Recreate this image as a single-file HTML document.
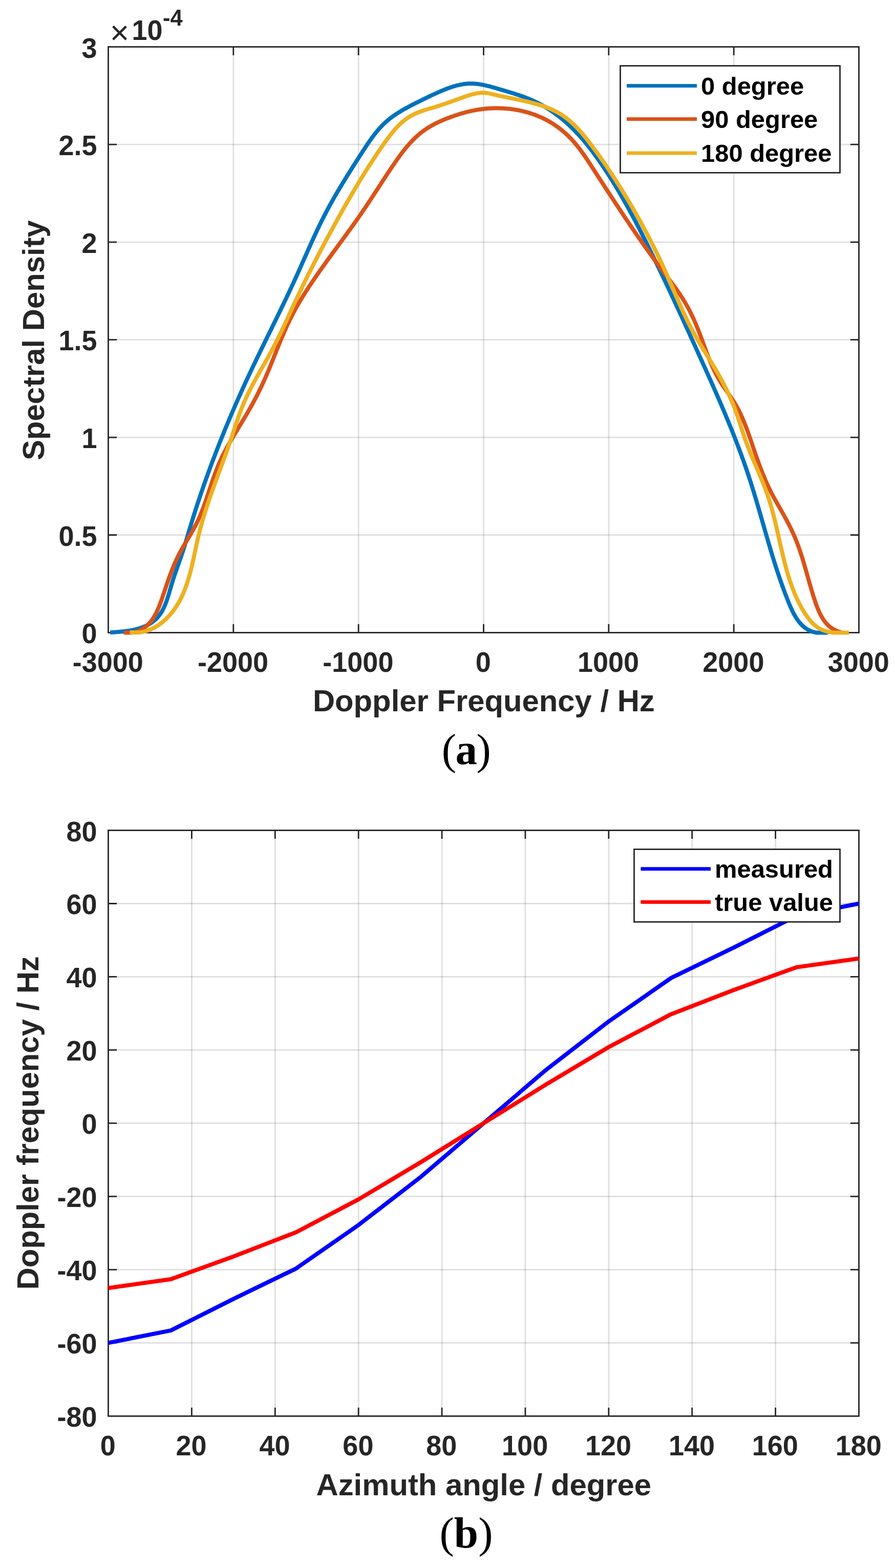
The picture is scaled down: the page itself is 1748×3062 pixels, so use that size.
<!DOCTYPE html><html><head><meta charset="utf-8"><title>Doppler spectra</title><style>html,body{margin:0;padding:0;background:#fff}svg{display:block}text{font-family:'Liberation Sans', sans-serif}</style></head><body>
<svg width="1748" height="3062" viewBox="0 0 1748 3062">
<rect width="1748" height="3062" fill="#fff"/>
<path d="M455.83 91.5V1235.4M700.17 91.5V1235.4M944.5 91.5V1235.4M1188.83 91.5V1235.4M1433.17 91.5V1235.4" stroke="#262626" stroke-opacity="0.15" stroke-width="2.8" fill="none"/>
<path d="M211.5 1044.75H1677.5M211.5 854.1H1677.5M211.5 663.45H1677.5M211.5 472.8H1677.5M211.5 282.15H1677.5" stroke="#262626" stroke-opacity="0.15" stroke-width="2.8" fill="none"/>
<path d="M455.83 1235.4V1218.8M455.83 91.5V108.1M700.17 1235.4V1218.8M700.17 91.5V108.1M944.5 1235.4V1218.8M944.5 91.5V108.1M1188.83 1235.4V1218.8M1188.83 91.5V108.1M1433.17 1235.4V1218.8M1433.17 91.5V108.1M211.5 1044.75H228.1M1677.5 1044.75H1660.9M211.5 854.1H228.1M1677.5 854.1H1660.9M211.5 663.45H228.1M1677.5 663.45H1660.9M211.5 472.8H228.1M1677.5 472.8H1660.9M211.5 282.15H228.1M1677.5 282.15H1660.9" stroke="#262626" stroke-width="2.8" fill="none"/>
<rect x="211.5" y="91.5" width="1466" height="1143.9" fill="none" stroke="#262626" stroke-width="2.8" stroke-linejoin="miter"/>
<polyline points="215.3,1235.1 217.3,1235.0 219.3,1234.8 221.2,1234.7 223.2,1234.6 225.2,1234.4 227.2,1234.3 229.2,1234.1 231.2,1233.9 233.2,1233.8 235.2,1233.6 237.2,1233.4 239.2,1233.2 241.2,1233.0 243.2,1232.7 245.1,1232.5 247.1,1232.2 249.1,1232.0 251.1,1231.7 253.1,1231.4 255.0,1231.0 257.0,1230.7 259.0,1230.3 260.9,1229.9 262.9,1229.5 264.8,1229.0 266.8,1228.5 268.7,1228.0 270.6,1227.5 272.5,1226.9 274.4,1226.3 276.3,1225.6 278.2,1224.9 280.1,1224.2 281.9,1223.4 283.8,1222.6 285.6,1221.8 287.4,1220.9 289.1,1220.0 290.9,1219.0 292.6,1218.0 294.3,1217.0 296.0,1215.9 297.6,1214.7 299.2,1213.5 300.8,1212.3 302.3,1211.0 303.8,1209.7 305.3,1208.3 306.7,1206.9 308.0,1205.4 309.3,1203.9 310.6,1202.3 311.8,1200.7 313.0,1199.1 314.1,1197.4 315.2,1195.8 316.2,1194.0 317.2,1192.3 318.1,1190.5 319.0,1188.8 319.9,1187.0 320.7,1185.1 321.5,1183.3 322.3,1181.5 323.1,1179.6 323.8,1177.7 324.5,1175.9 325.2,1174.0 325.8,1172.1 326.5,1170.2 327.1,1168.3 327.7,1166.4 328.3,1164.5 328.9,1162.6 329.5,1160.7 330.1,1158.8 330.7,1156.9 331.2,1154.9 331.8,1153.0 332.3,1151.1 332.9,1149.2 333.4,1147.3 334.0,1145.3 334.6,1143.4 335.1,1141.5 335.7,1139.6 336.3,1137.7 336.9,1135.8 337.5,1133.8 338.1,1131.9 338.7,1130.0 339.3,1128.1 340.0,1126.2 340.6,1124.3 341.2,1122.4 341.9,1120.6 342.5,1118.7 343.2,1116.8 343.8,1114.9 344.5,1113.0 345.2,1111.1 345.8,1109.2 346.5,1107.3 347.1,1105.4 347.8,1103.6 348.5,1101.7 349.2,1099.8 349.8,1097.9 350.5,1096.0 351.1,1094.1 351.8,1092.2 352.5,1090.4 353.1,1088.5 353.8,1086.6 354.4,1084.7 355.1,1082.8 355.7,1080.9 356.4,1079.0 357.0,1077.1 357.6,1075.2 358.2,1073.3 358.8,1071.4 359.4,1069.5 360.0,1067.6 360.6,1065.7 361.2,1063.8 361.8,1061.8 362.4,1059.9 362.9,1058.0 363.5,1056.1 364.1,1054.2 364.6,1052.3 365.2,1050.3 365.8,1048.4 366.3,1046.5 366.9,1044.6 367.5,1042.7 368.0,1040.7 368.6,1038.8 369.2,1036.9 369.7,1035.0 370.3,1033.1 370.9,1031.2 371.5,1029.3 372.1,1027.3 372.6,1025.4 373.2,1023.5 373.8,1021.6 374.4,1019.7 375.0,1017.8 375.6,1015.9 376.2,1014.0 376.8,1012.0 377.4,1010.1 378.0,1008.2 378.6,1006.3 379.2,1004.4 379.8,1002.5 380.4,1000.6 381.0,998.7 381.6,996.8 382.2,994.9 382.8,993.0 383.5,991.1 384.1,989.2 384.7,987.3 385.3,985.4 385.9,983.5 386.6,981.6 387.2,979.7 387.8,977.8 388.5,975.9 389.1,974.0 389.7,972.1 390.4,970.2 391.0,968.3 391.7,966.4 392.3,964.5 392.9,962.6 393.6,960.7 394.2,958.8 394.9,957.0 395.5,955.1 396.2,953.2 396.8,951.3 397.5,949.4 398.2,947.5 398.8,945.6 399.5,943.7 400.2,941.8 400.8,940.0 401.5,938.1 402.2,936.2 402.8,934.3 403.5,932.4 404.2,930.5 404.9,928.7 405.5,926.8 406.2,924.9 406.9,923.0 407.6,921.1 408.3,919.3 409.0,917.4 409.6,915.5 410.3,913.6 411.0,911.7 411.7,909.9 412.4,908.0 413.1,906.1 413.8,904.3 414.5,902.4 415.2,900.5 415.9,898.6 416.6,896.8 417.3,894.9 418.1,893.0 418.8,891.2 419.5,889.3 420.2,887.4 420.9,885.6 421.6,883.7 422.4,881.8 423.1,880.0 423.8,878.1 424.5,876.2 425.2,874.4 426.0,872.5 426.7,870.6 427.4,868.8 428.2,866.9 428.9,865.1 429.6,863.2 430.4,861.3 431.1,859.5 431.9,857.6 432.6,855.8 433.4,853.9 434.1,852.1 434.9,850.2 435.6,848.3 436.4,846.5 437.1,844.6 437.9,842.8 438.6,840.9 439.4,839.1 440.1,837.2 440.9,835.4 441.7,833.5 442.4,831.7 443.2,829.8 444.0,828.0 444.7,826.2 445.5,824.3 446.3,822.5 447.0,820.6 447.8,818.8 448.6,816.9 449.4,815.1 450.2,813.2 450.9,811.4 451.7,809.6 452.5,807.7 453.3,805.9 454.1,804.1 454.9,802.2 455.7,800.4 456.5,798.5 457.3,796.7 458.1,794.9 458.9,793.0 459.7,791.2 460.5,789.4 461.3,787.5 462.1,785.7 462.9,783.9 463.7,782.1 464.5,780.2 465.3,778.4 466.1,776.6 466.9,774.7 467.7,772.9 468.6,771.1 469.4,769.3 470.2,767.4 471.0,765.6 471.8,763.8 472.7,762.0 473.5,760.1 474.3,758.3 475.1,756.5 476.0,754.7 476.8,752.9 477.6,751.0 478.5,749.2 479.3,747.4 480.1,745.6 481.0,743.8 481.8,742.0 482.7,740.2 483.5,738.3 484.4,736.5 485.2,734.7 486.1,732.9 486.9,731.1 487.8,729.3 488.6,727.5 489.5,725.7 490.3,723.9 491.2,722.1 492.0,720.2 492.9,718.4 493.7,716.6 494.6,714.8 495.5,713.0 496.3,711.2 497.2,709.4 498.1,707.6 498.9,705.8 499.8,704.0 500.7,702.2 501.5,700.4 502.4,698.6 503.3,696.8 504.1,695.0 505.0,693.2 505.9,691.4 506.8,689.6 507.6,687.8 508.5,686.0 509.4,684.2 510.2,682.4 511.1,680.6 512.0,678.8 512.9,677.0 513.8,675.2 514.6,673.4 515.5,671.6 516.4,669.8 517.3,668.0 518.1,666.2 519.0,664.4 519.9,662.6 520.8,660.8 521.7,659.0 522.5,657.2 523.4,655.5 524.3,653.7 525.2,651.9 526.1,650.1 526.9,648.3 527.8,646.5 528.7,644.7 529.6,642.9 530.5,641.1 531.4,639.3 532.2,637.5 533.1,635.7 534.0,633.9 534.9,632.1 535.7,630.3 536.6,628.5 537.5,626.7 538.4,624.9 539.3,623.1 540.1,621.3 541.0,619.5 541.9,617.7 542.8,615.9 543.6,614.1 544.5,612.3 545.4,610.5 546.3,608.7 547.1,606.9 548.0,605.1 548.9,603.3 549.8,601.5 550.6,599.7 551.5,597.9 552.4,596.1 553.2,594.3 554.1,592.5 555.0,590.7 555.8,588.9 556.7,587.1 557.5,585.3 558.4,583.5 559.3,581.7 560.1,579.9 561.0,578.1 561.8,576.3 562.7,574.5 563.6,572.7 564.4,570.9 565.3,569.0 566.1,567.2 567.0,565.4 567.8,563.6 568.7,561.8 569.5,560.0 570.3,558.2 571.2,556.4 572.0,554.5 572.9,552.7 573.7,550.9 574.5,549.1 575.4,547.3 576.2,545.5 577.0,543.6 577.9,541.8 578.7,540.0 579.5,538.2 580.3,536.4 581.2,534.5 582.0,532.7 582.8,530.9 583.6,529.1 584.4,527.2 585.3,525.4 586.1,523.6 586.9,521.8 587.7,519.9 588.5,518.1 589.3,516.3 590.1,514.4 590.9,512.6 591.8,510.8 592.6,509.0 593.4,507.1 594.2,505.3 595.0,503.5 595.8,501.6 596.6,499.8 597.4,498.0 598.2,496.2 599.1,494.3 599.9,492.5 600.7,490.7 601.5,488.9 602.3,487.0 603.1,485.2 603.9,483.4 604.8,481.6 605.6,479.7 606.4,477.9 607.2,476.1 608.0,474.3 608.9,472.4 609.7,470.6 610.5,468.8 611.4,467.0 612.2,465.2 613.0,463.3 613.9,461.5 614.7,459.7 615.5,457.9 616.4,456.1 617.2,454.3 618.1,452.5 618.9,450.6 619.8,448.8 620.6,447.0 621.5,445.2 622.4,443.4 623.2,441.6 624.1,439.8 625.0,438.0 625.9,436.2 626.7,434.4 627.6,432.6 628.5,430.8 629.4,429.1 630.3,427.3 631.2,425.5 632.1,423.7 633.0,421.9 633.9,420.1 634.9,418.4 635.8,416.6 636.7,414.8 637.6,413.1 638.6,411.3 639.5,409.5 640.5,407.8 641.4,406.0 642.4,404.2 643.3,402.5 644.3,400.7 645.2,399.0 646.2,397.2 647.2,395.5 648.2,393.7 649.1,392.0 650.1,390.2 651.1,388.5 652.1,386.8 653.1,385.0 654.1,383.3 655.1,381.6 656.1,379.8 657.1,378.1 658.1,376.4 659.1,374.7 660.1,372.9 661.2,371.2 662.2,369.5 663.2,367.8 664.2,366.1 665.3,364.3 666.3,362.6 667.3,360.9 668.4,359.2 669.4,357.5 670.4,355.8 671.5,354.1 672.5,352.4 673.6,350.7 674.6,349.0 675.7,347.3 676.7,345.6 677.8,343.9 678.8,342.2 679.9,340.5 680.9,338.8 682.0,337.1 683.1,335.4 684.1,333.7 685.2,332.0 686.3,330.3 687.3,328.6 688.4,326.9 689.5,325.2 690.6,323.6 691.6,321.9 692.7,320.2 693.8,318.5 694.9,316.8 695.9,315.1 697.0,313.4 698.1,311.8 699.2,310.1 700.3,308.4 701.3,306.7 702.4,305.0 703.5,303.3 704.6,301.7 705.7,300.0 706.8,298.3 707.8,296.6 708.9,294.9 710.0,293.3 711.1,291.6 712.2,289.9 713.3,288.2 714.4,286.6 715.5,284.9 716.6,283.2 717.7,281.6 718.8,279.9 720.0,278.3 721.1,276.6 722.2,275.0 723.4,273.3 724.6,271.7 725.7,270.1 726.9,268.5 728.1,266.9 729.3,265.3 730.5,263.7 731.7,262.1 733.0,260.5 734.2,259.0 735.5,257.4 736.7,255.9 738.0,254.3 739.3,252.8 740.7,251.3 742.0,249.8 743.3,248.3 744.7,246.9 746.1,245.4 747.5,244.0 748.9,242.6 750.4,241.2 751.8,239.8 753.3,238.5 754.8,237.2 756.3,235.9 757.8,234.6 759.4,233.3 760.9,232.0 762.5,230.8 764.1,229.6 765.7,228.4 767.3,227.2 768.9,226.1 770.6,224.9 772.2,223.8 773.9,222.7 775.6,221.6 777.3,220.5 778.9,219.4 780.6,218.4 782.4,217.4 784.1,216.3 785.8,215.3 787.5,214.3 789.3,213.3 791.0,212.3 792.7,211.4 794.5,210.4 796.3,209.4 798.0,208.5 799.8,207.6 801.6,206.6 803.3,205.7 805.1,204.8 806.9,203.9 808.7,203.0 810.4,202.1 812.2,201.2 814.0,200.3 815.8,199.4 817.6,198.5 819.4,197.6 821.2,196.7 823.0,195.8 824.8,194.9 826.6,194.0 828.4,193.2 830.2,192.3 832.0,191.4 833.8,190.5 835.6,189.7 837.4,188.8 839.2,188.0 841.0,187.1 842.8,186.2 844.6,185.4 846.4,184.6 848.2,183.7 850.1,182.9 851.9,182.1 853.7,181.3 855.5,180.4 857.4,179.6 859.2,178.8 861.0,178.0 862.9,177.3 864.7,176.5 866.6,175.7 868.4,175.0 870.3,174.2 872.1,173.5 874.0,172.8 875.9,172.1 877.8,171.4 879.7,170.8 881.5,170.1 883.5,169.5 885.4,168.9 887.3,168.3 889.2,167.8 891.1,167.2 893.1,166.7 895.0,166.3 897.0,165.8 898.9,165.4 900.9,165.0 902.8,164.7 904.8,164.3 906.8,164.1 908.8,163.8 910.8,163.6 912.8,163.4 914.8,163.3 916.8,163.2 918.8,163.2 920.8,163.2 922.8,163.2 924.8,163.3 926.7,163.4 928.7,163.6 930.7,163.8 932.7,164.0 934.7,164.3 936.7,164.6 938.7,164.9 940.6,165.2 942.6,165.6 944.6,166.0 946.5,166.4 948.5,166.8 950.4,167.3 952.4,167.8 954.3,168.2 956.2,168.7 958.2,169.2 960.1,169.8 962.0,170.3 964.0,170.8 965.9,171.4 967.8,171.9 969.7,172.5 971.6,173.1 973.6,173.6 975.5,174.2 977.4,174.8 979.3,175.3 981.2,175.9 983.1,176.5 985.1,177.0 987.0,177.6 988.9,178.2 990.8,178.8 992.7,179.3 994.6,179.9 996.6,180.5 998.5,181.1 1000.4,181.7 1002.3,182.2 1004.2,182.8 1006.1,183.5 1008.0,184.1 1009.9,184.7 1011.8,185.3 1013.7,185.9 1015.6,186.6 1017.5,187.2 1019.4,187.9 1021.3,188.6 1023.1,189.3 1025.0,189.9 1026.9,190.7 1028.8,191.4 1030.6,192.1 1032.5,192.9 1034.3,193.6 1036.2,194.4 1038.0,195.2 1039.8,196.0 1041.6,196.8 1043.5,197.7 1045.3,198.5 1047.1,199.4 1048.9,200.3 1050.6,201.2 1052.4,202.1 1054.2,203.0 1056.0,204.0 1057.7,204.9 1059.5,205.9 1061.2,206.9 1062.9,207.9 1064.6,208.9 1066.4,210.0 1068.1,211.0 1069.8,212.1 1071.4,213.1 1073.1,214.2 1074.8,215.3 1076.5,216.4 1078.1,217.6 1079.8,218.7 1081.4,219.8 1083.0,221.0 1084.6,222.2 1086.3,223.4 1087.9,224.6 1089.5,225.8 1091.0,227.0 1092.6,228.2 1094.2,229.5 1095.7,230.7 1097.3,232.0 1098.8,233.3 1100.4,234.6 1101.9,235.8 1103.4,237.2 1104.9,238.5 1106.4,239.8 1107.9,241.1 1109.4,242.5 1110.8,243.8 1112.3,245.2 1113.7,246.6 1115.2,248.0 1116.6,249.4 1118.0,250.8 1119.5,252.2 1120.9,253.6 1122.3,255.0 1123.7,256.5 1125.0,257.9 1126.4,259.4 1127.8,260.8 1129.2,262.3 1130.5,263.7 1131.9,265.2 1133.2,266.7 1134.5,268.2 1135.8,269.7 1137.2,271.2 1138.5,272.7 1139.8,274.2 1141.1,275.8 1142.3,277.3 1143.6,278.8 1144.9,280.4 1146.2,281.9 1147.4,283.5 1148.7,285.0 1149.9,286.6 1151.2,288.2 1152.4,289.8 1153.6,291.3 1154.8,292.9 1156.0,294.5 1157.3,296.1 1158.5,297.7 1159.7,299.3 1160.8,300.9 1162.0,302.5 1163.2,304.1 1164.4,305.8 1165.6,307.4 1166.7,309.0 1167.9,310.6 1169.0,312.3 1170.2,313.9 1171.3,315.6 1172.5,317.2 1173.6,318.8 1174.7,320.5 1175.9,322.1 1177.0,323.8 1178.1,325.5 1179.2,327.1 1180.3,328.8 1181.4,330.4 1182.5,332.1 1183.6,333.8 1184.7,335.5 1185.8,337.1 1186.9,338.8 1188.0,340.5 1189.1,342.2 1190.1,343.9 1191.2,345.6 1192.3,347.2 1193.4,348.9 1194.4,350.6 1195.5,352.3 1196.5,354.0 1197.6,355.7 1198.6,357.4 1199.7,359.1 1200.7,360.8 1201.8,362.5 1202.8,364.3 1203.8,366.0 1204.9,367.7 1205.9,369.4 1206.9,371.1 1207.9,372.8 1209.0,374.6 1210.0,376.3 1211.0,378.0 1212.0,379.7 1213.0,381.5 1214.0,383.2 1215.0,384.9 1216.0,386.7 1217.0,388.4 1218.0,390.1 1219.0,391.9 1220.0,393.6 1220.9,395.4 1221.9,397.1 1222.9,398.8 1223.9,400.6 1224.8,402.3 1225.8,404.1 1226.8,405.8 1227.7,407.6 1228.7,409.3 1229.7,411.1 1230.6,412.8 1231.6,414.6 1232.5,416.4 1233.5,418.1 1234.4,419.9 1235.4,421.6 1236.3,423.4 1237.3,425.2 1238.2,426.9 1239.1,428.7 1240.1,430.5 1241.0,432.2 1241.9,434.0 1242.9,435.8 1243.8,437.6 1244.7,439.3 1245.7,441.1 1246.6,442.9 1247.5,444.7 1248.4,446.4 1249.3,448.2 1250.2,450.0 1251.2,451.8 1252.1,453.5 1253.0,455.3 1253.9,457.1 1254.8,458.9 1255.7,460.7 1256.6,462.5 1257.5,464.2 1258.4,466.0 1259.3,467.8 1260.2,469.6 1261.1,471.4 1262.0,473.2 1262.9,475.0 1263.8,476.8 1264.7,478.5 1265.6,480.3 1266.4,482.1 1267.3,483.9 1268.2,485.7 1269.1,487.5 1270.0,489.3 1270.9,491.1 1271.8,492.9 1272.6,494.7 1273.5,496.5 1274.4,498.3 1275.3,500.1 1276.2,501.9 1277.0,503.7 1277.9,505.5 1278.8,507.3 1279.7,509.1 1280.5,510.9 1281.4,512.7 1282.3,514.5 1283.2,516.3 1284.0,518.1 1284.9,519.9 1285.8,521.7 1286.6,523.5 1287.5,525.3 1288.4,527.1 1289.2,528.9 1290.1,530.7 1291.0,532.5 1291.8,534.3 1292.7,536.1 1293.6,537.9 1294.4,539.7 1295.3,541.5 1296.1,543.3 1297.0,545.1 1297.9,546.9 1298.7,548.7 1299.6,550.5 1300.4,552.3 1301.3,554.1 1302.1,556.0 1303.0,557.8 1303.8,559.6 1304.7,561.4 1305.6,563.2 1306.4,565.0 1307.3,566.8 1308.1,568.6 1309.0,570.4 1309.8,572.2 1310.7,574.1 1311.5,575.9 1312.3,577.7 1313.2,579.5 1314.0,581.3 1314.9,583.1 1315.7,584.9 1316.6,586.7 1317.4,588.6 1318.3,590.4 1319.1,592.2 1319.9,594.0 1320.8,595.8 1321.6,597.6 1322.5,599.4 1323.3,601.2 1324.2,603.1 1325.0,604.9 1325.8,606.7 1326.7,608.5 1327.5,610.3 1328.3,612.1 1329.2,614.0 1330.0,615.8 1330.9,617.6 1331.7,619.4 1332.5,621.2 1333.4,623.0 1334.2,624.9 1335.0,626.7 1335.9,628.5 1336.7,630.3 1337.5,632.1 1338.4,634.0 1339.2,635.8 1340.0,637.6 1340.9,639.4 1341.7,641.2 1342.5,643.0 1343.4,644.9 1344.2,646.7 1345.0,648.5 1345.9,650.3 1346.7,652.1 1347.5,654.0 1348.3,655.8 1349.2,657.6 1350.0,659.4 1350.8,661.2 1351.7,663.1 1352.5,664.9 1353.3,666.7 1354.1,668.5 1355.0,670.3 1355.8,672.2 1356.6,674.0 1357.5,675.8 1358.3,677.6 1359.1,679.4 1359.9,681.3 1360.8,683.1 1361.6,684.9 1362.4,686.7 1363.2,688.6 1364.1,690.4 1364.9,692.2 1365.7,694.0 1366.5,695.8 1367.4,697.7 1368.2,699.5 1369.0,701.3 1369.8,703.1 1370.7,704.9 1371.5,706.8 1372.3,708.6 1373.1,710.4 1374.0,712.2 1374.8,714.1 1375.6,715.9 1376.4,717.7 1377.3,719.5 1378.1,721.3 1378.9,723.2 1379.7,725.0 1380.5,726.8 1381.4,728.6 1382.2,730.5 1383.0,732.3 1383.8,734.1 1384.6,735.9 1385.5,737.8 1386.3,739.6 1387.1,741.4 1387.9,743.2 1388.7,745.1 1389.5,746.9 1390.3,748.7 1391.2,750.6 1392.0,752.4 1392.8,754.2 1393.6,756.0 1394.4,757.9 1395.2,759.7 1396.0,761.5 1396.8,763.4 1397.6,765.2 1398.4,767.0 1399.2,768.9 1400.0,770.7 1400.8,772.5 1401.6,774.4 1402.4,776.2 1403.2,778.0 1404.0,779.9 1404.8,781.7 1405.6,783.5 1406.4,785.4 1407.2,787.2 1408.0,789.0 1408.8,790.9 1409.6,792.7 1410.3,794.6 1411.1,796.4 1411.9,798.2 1412.7,800.1 1413.5,801.9 1414.3,803.8 1415.0,805.6 1415.8,807.4 1416.6,809.3 1417.4,811.1 1418.1,813.0 1418.9,814.8 1419.7,816.7 1420.4,818.5 1421.2,820.4 1422.0,822.2 1422.7,824.1 1423.5,825.9 1424.2,827.8 1425.0,829.6 1425.8,831.5 1426.5,833.3 1427.3,835.2 1428.0,837.0 1428.8,838.9 1429.5,840.7 1430.2,842.6 1431.0,844.5 1431.7,846.3 1432.5,848.2 1433.2,850.0 1433.9,851.9 1434.7,853.8 1435.4,855.6 1436.1,857.5 1436.9,859.3 1437.6,861.2 1438.3,863.1 1439.0,864.9 1439.7,866.8 1440.4,868.7 1441.2,870.5 1441.9,872.4 1442.6,874.3 1443.3,876.2 1444.0,878.0 1444.7,879.9 1445.4,881.8 1446.1,883.6 1446.8,885.5 1447.5,887.4 1448.2,889.3 1448.8,891.2 1449.5,893.0 1450.2,894.9 1450.9,896.8 1451.6,898.7 1452.2,900.6 1452.9,902.4 1453.6,904.3 1454.2,906.2 1454.9,908.1 1455.6,910.0 1456.2,911.9 1456.9,913.8 1457.5,915.7 1458.2,917.6 1458.8,919.5 1459.4,921.3 1460.1,923.2 1460.7,925.1 1461.4,927.0 1462.0,928.9 1462.6,930.8 1463.2,932.7 1463.9,934.6 1464.5,936.5 1465.1,938.4 1465.7,940.3 1466.3,942.2 1466.9,944.2 1467.5,946.1 1468.1,948.0 1468.7,949.9 1469.3,951.8 1469.9,953.7 1470.5,955.6 1471.1,957.5 1471.7,959.4 1472.3,961.3 1472.8,963.3 1473.4,965.2 1474.0,967.1 1474.6,969.0 1475.2,970.9 1475.7,972.8 1476.3,974.7 1476.9,976.7 1477.4,978.6 1478.0,980.5 1478.6,982.4 1479.1,984.3 1479.7,986.3 1480.3,988.2 1480.8,990.1 1481.4,992.0 1481.9,993.9 1482.5,995.9 1483.1,997.8 1483.6,999.7 1484.2,1001.6 1484.7,1003.5 1485.3,1005.5 1485.8,1007.4 1486.4,1009.3 1486.9,1011.2 1487.5,1013.1 1488.0,1015.1 1488.6,1017.0 1489.1,1018.9 1489.7,1020.8 1490.2,1022.8 1490.8,1024.7 1491.4,1026.6 1491.9,1028.5 1492.5,1030.5 1493.0,1032.4 1493.6,1034.3 1494.1,1036.2 1494.7,1038.1 1495.2,1040.1 1495.8,1042.0 1496.3,1043.9 1496.9,1045.8 1497.4,1047.7 1498.0,1049.7 1498.6,1051.6 1499.1,1053.5 1499.7,1055.4 1500.2,1057.3 1500.8,1059.3 1501.4,1061.2 1501.9,1063.1 1502.5,1065.0 1503.1,1066.9 1503.6,1068.9 1504.2,1070.8 1504.8,1072.7 1505.3,1074.6 1505.9,1076.5 1506.5,1078.4 1507.1,1080.4 1507.7,1082.3 1508.2,1084.2 1508.8,1086.1 1509.4,1088.0 1510.0,1089.9 1510.6,1091.8 1511.2,1093.7 1511.8,1095.6 1512.4,1097.6 1513.0,1099.5 1513.6,1101.4 1514.2,1103.3 1514.8,1105.2 1515.4,1107.1 1516.0,1109.0 1516.6,1110.9 1517.3,1112.8 1517.9,1114.7 1518.5,1116.6 1519.1,1118.5 1519.8,1120.4 1520.4,1122.3 1521.0,1124.2 1521.7,1126.1 1522.3,1128.0 1523.0,1129.9 1523.6,1131.7 1524.3,1133.6 1524.9,1135.5 1525.6,1137.4 1526.3,1139.3 1526.9,1141.2 1527.6,1143.1 1528.3,1145.0 1529.0,1146.8 1529.6,1148.7 1530.3,1150.6 1531.0,1152.5 1531.7,1154.3 1532.4,1156.2 1533.1,1158.1 1533.8,1160.0 1534.5,1161.8 1535.3,1163.7 1536.0,1165.6 1536.7,1167.4 1537.4,1169.3 1538.2,1171.2 1538.9,1173.0 1539.6,1174.9 1540.4,1176.7 1541.1,1178.6 1541.9,1180.4 1542.7,1182.3 1543.5,1184.1 1544.3,1185.9 1545.1,1187.8 1545.9,1189.6 1546.8,1191.4 1547.6,1193.2 1548.5,1195.0 1549.4,1196.8 1550.4,1198.5 1551.3,1200.3 1552.3,1202.0 1553.3,1203.8 1554.4,1205.5 1555.4,1207.2 1556.5,1208.8 1557.7,1210.5 1558.8,1212.1 1560.0,1213.7 1561.3,1215.3 1562.6,1216.8 1563.9,1218.3 1565.3,1219.7 1566.7,1221.2 1568.1,1222.5 1569.7,1223.8 1571.2,1225.1 1572.8,1226.3 1574.4,1227.5 1576.1,1228.6 1577.8,1229.6 1579.6,1230.5 1581.4,1231.4 1583.2,1232.2 1585.1,1233.0 1586.9,1233.6 1588.9,1234.2 1590.8,1234.7 1592.7,1235.2 1594.7,1235.4 1596.7,1235.4 1598.7,1235.4 1600.7,1235.4 1602.7,1235.4 1604.7,1235.4 1606.7,1235.4 1608.7,1235.4 1610.7,1235.4 1612.6,1235.4 1614.6,1235.4 1614.1,1235.4" fill="none" stroke="#0072BD" stroke-width="8.0" stroke-linejoin="round" stroke-linecap="butt"/>
<polyline points="241.7,1235.0 243.6,1235.3 245.6,1235.4 247.6,1235.4 249.6,1235.4 251.6,1235.4 253.6,1235.4 255.6,1235.4 257.6,1235.4 259.6,1235.1 261.5,1234.7 263.5,1234.3 265.4,1233.8 267.3,1233.2 269.2,1232.5 271.1,1231.8 272.9,1231.0 274.7,1230.1 276.5,1229.2 278.2,1228.2 279.9,1227.1 281.6,1226.0 283.2,1224.8 284.7,1223.6 286.3,1222.3 287.8,1221.0 289.2,1219.6 290.6,1218.1 292.0,1216.7 293.3,1215.2 294.5,1213.6 295.8,1212.0 297.0,1210.4 298.1,1208.8 299.2,1207.1 300.3,1205.4 301.3,1203.7 302.3,1202.0 303.3,1200.2 304.2,1198.5 305.2,1196.7 306.0,1194.9 306.9,1193.1 307.7,1191.3 308.5,1189.5 309.3,1187.6 310.1,1185.8 310.9,1183.9 311.6,1182.1 312.3,1180.2 313.0,1178.3 313.7,1176.4 314.4,1174.6 315.1,1172.7 315.7,1170.8 316.4,1168.9 317.0,1167.0 317.7,1165.1 318.3,1163.2 318.9,1161.3 319.6,1159.4 320.2,1157.5 320.9,1155.6 321.5,1153.7 322.1,1151.9 322.8,1150.0 323.4,1148.1 324.0,1146.2 324.7,1144.3 325.3,1142.4 326.0,1140.5 326.6,1138.6 327.3,1136.7 327.9,1134.8 328.6,1132.9 329.3,1131.0 329.9,1129.2 330.6,1127.3 331.3,1125.4 332.0,1123.5 332.7,1121.6 333.4,1119.8 334.1,1117.9 334.8,1116.0 335.5,1114.2 336.3,1112.3 337.0,1110.4 337.7,1108.6 338.5,1106.7 339.3,1104.9 340.0,1103.0 340.8,1101.2 341.6,1099.4 342.4,1097.5 343.3,1095.7 344.1,1093.9 344.9,1092.1 345.8,1090.3 346.7,1088.5 347.5,1086.7 348.4,1084.9 349.3,1083.1 350.3,1081.3 351.2,1079.6 352.1,1077.8 353.1,1076.1 354.1,1074.3 355.0,1072.6 356.0,1070.8 357.0,1069.1 358.0,1067.3 359.0,1065.6 360.0,1063.9 361.1,1062.2 362.1,1060.4 363.1,1058.7 364.1,1057.0 365.1,1055.3 366.2,1053.6 367.2,1051.9 368.2,1050.1 369.2,1048.4 370.3,1046.7 371.3,1045.0 372.3,1043.3 373.3,1041.5 374.3,1039.8 375.3,1038.1 376.3,1036.3 377.3,1034.6 378.2,1032.8 379.2,1031.1 380.1,1029.3 381.1,1027.6 382.0,1025.8 382.9,1024.0 383.8,1022.2 384.7,1020.4 385.6,1018.6 386.4,1016.8 387.3,1015.0 388.1,1013.2 388.9,1011.4 389.7,1009.5 390.5,1007.7 391.3,1005.8 392.1,1004.0 392.8,1002.1 393.6,1000.3 394.3,998.4 395.1,996.6 395.8,994.7 396.5,992.8 397.2,991.0 397.9,989.1 398.6,987.2 399.3,985.3 400.0,983.5 400.6,981.6 401.3,979.7 402.0,977.8 402.6,975.9 403.3,974.0 403.9,972.1 404.6,970.2 405.2,968.3 405.8,966.4 406.5,964.6 407.1,962.7 407.7,960.8 408.4,958.9 409.0,957.0 409.6,955.1 410.3,953.2 410.9,951.3 411.5,949.4 412.2,947.5 412.8,945.6 413.4,943.7 414.1,941.8 414.7,939.9 415.4,938.0 416.0,936.1 416.7,934.2 417.3,932.3 418.0,930.5 418.7,928.6 419.4,926.7 420.1,924.8 420.7,922.9 421.4,921.1 422.2,919.2 422.9,917.3 423.6,915.5 424.3,913.6 425.1,911.7 425.8,909.9 426.6,908.0 427.4,906.2 428.2,904.4 429.0,902.5 429.8,900.7 430.6,898.9 431.4,897.1 432.3,895.2 433.1,893.4 434.0,891.6 434.9,889.8 435.8,888.1 436.7,886.3 437.6,884.5 438.5,882.7 439.4,880.9 440.4,879.2 441.3,877.4 442.2,875.6 443.2,873.9 444.2,872.1 445.1,870.4 446.1,868.6 447.1,866.9 448.1,865.2 449.1,863.4 450.1,861.7 451.1,860.0 452.1,858.2 453.1,856.5 454.1,854.8 455.2,853.1 456.2,851.4 457.2,849.6 458.2,847.9 459.3,846.2 460.3,844.5 461.3,842.8 462.4,841.1 463.4,839.4 464.4,837.6 465.5,835.9 466.5,834.2 467.5,832.5 468.6,830.8 469.6,829.1 470.6,827.4 471.7,825.7 472.7,823.9 473.7,822.2 474.8,820.5 475.8,818.8 476.8,817.1 477.8,815.4 478.8,813.6 479.9,811.9 480.9,810.2 481.9,808.5 482.9,806.7 483.9,805.0 484.9,803.3 485.9,801.5 486.9,799.8 487.9,798.1 488.9,796.3 489.8,794.6 490.8,792.8 491.8,791.1 492.8,789.3 493.7,787.6 494.7,785.8 495.6,784.1 496.6,782.3 497.5,780.6 498.5,778.8 499.4,777.0 500.3,775.2 501.2,773.5 502.1,771.7 503.1,769.9 504.0,768.1 504.9,766.3 505.7,764.5 506.6,762.7 507.5,760.9 508.4,759.1 509.2,757.3 510.1,755.5 511.0,753.7 511.8,751.9 512.6,750.1 513.5,748.3 514.3,746.5 515.1,744.7 516.0,742.8 516.8,741.0 517.6,739.2 518.4,737.3 519.2,735.5 520.0,733.7 520.8,731.8 521.6,730.0 522.4,728.2 523.1,726.3 523.9,724.5 524.7,722.6 525.5,720.8 526.2,718.9 527.0,717.1 527.8,715.2 528.5,713.4 529.3,711.5 530.0,709.7 530.8,707.8 531.5,706.0 532.3,704.1 533.0,702.3 533.8,700.4 534.5,698.6 535.2,696.7 536.0,694.8 536.7,693.0 537.5,691.1 538.2,689.3 539.0,687.4 539.7,685.6 540.4,683.7 541.2,681.8 541.9,680.0 542.7,678.1 543.4,676.3 544.2,674.4 544.9,672.6 545.7,670.7 546.4,668.9 547.2,667.0 548.0,665.2 548.7,663.3 549.5,661.5 550.3,659.6 551.1,657.8 551.8,655.9 552.6,654.1 553.4,652.3 554.2,650.4 555.0,648.6 555.8,646.8 556.6,644.9 557.4,643.1 558.2,641.3 559.0,639.5 559.9,637.6 560.7,635.8 561.6,634.0 562.4,632.2 563.2,630.4 564.1,628.6 565.0,626.8 565.8,625.0 566.7,623.2 567.6,621.4 568.5,619.6 569.4,617.8 570.3,616.0 571.3,614.3 572.2,612.5 573.1,610.7 574.1,609.0 575.0,607.2 576.0,605.4 576.9,603.7 577.9,601.9 578.9,600.2 579.8,598.4 580.8,596.7 581.8,595.0 582.8,593.2 583.8,591.5 584.8,589.8 585.9,588.1 586.9,586.3 587.9,584.6 589.0,582.9 590.0,581.2 591.0,579.5 592.1,577.8 593.1,576.1 594.2,574.4 595.3,572.7 596.3,571.0 597.4,569.3 598.5,567.7 599.6,566.0 600.7,564.3 601.8,562.6 602.9,560.9 603.9,559.3 605.1,557.6 606.2,555.9 607.3,554.3 608.4,552.6 609.5,551.0 610.6,549.3 611.7,547.6 612.9,546.0 614.0,544.3 615.1,542.7 616.3,541.0 617.4,539.4 618.5,537.8 619.7,536.1 620.8,534.5 622.0,532.8 623.1,531.2 624.3,529.6 625.4,527.9 626.6,526.3 627.7,524.7 628.9,523.0 630.1,521.4 631.2,519.8 632.4,518.2 633.6,516.5 634.7,514.9 635.9,513.3 637.1,511.7 638.2,510.0 639.4,508.4 640.6,506.8 641.8,505.2 642.9,503.6 644.1,502.0 645.3,500.3 646.5,498.7 647.7,497.1 648.8,495.5 650.0,493.9 651.2,492.3 652.4,490.7 653.6,489.0 654.7,487.4 655.9,485.8 657.1,484.2 658.3,482.6 659.5,481.0 660.7,479.4 661.9,477.8 663.0,476.2 664.2,474.5 665.4,472.9 666.6,471.3 667.8,469.7 669.0,468.1 670.1,466.5 671.3,464.9 672.5,463.2 673.7,461.6 674.9,460.0 676.0,458.4 677.2,456.8 678.4,455.2 679.6,453.6 680.7,451.9 681.9,450.3 683.1,448.7 684.3,447.1 685.4,445.4 686.6,443.8 687.8,442.2 688.9,440.6 690.1,438.9 691.2,437.3 692.4,435.7 693.6,434.1 694.7,432.4 695.9,430.8 697.0,429.2 698.2,427.5 699.3,425.9 700.5,424.2 701.6,422.6 702.7,420.9 703.9,419.3 705.0,417.7 706.1,416.0 707.3,414.4 708.4,412.7 709.5,411.0 710.6,409.4 711.8,407.7 712.9,406.1 714.0,404.4 715.1,402.8 716.2,401.1 717.3,399.4 718.4,397.8 719.5,396.1 720.7,394.4 721.8,392.8 722.9,391.1 724.0,389.4 725.1,387.8 726.2,386.1 727.3,384.4 728.4,382.7 729.4,381.1 730.5,379.4 731.6,377.7 732.7,376.0 733.8,374.4 734.9,372.7 736.0,371.0 737.1,369.3 738.2,367.7 739.3,366.0 740.4,364.3 741.5,362.6 742.6,361.0 743.7,359.3 744.7,357.6 745.8,355.9 746.9,354.3 748.0,352.6 749.1,350.9 750.2,349.2 751.3,347.6 752.4,345.9 753.5,344.2 754.6,342.6 755.7,340.9 756.8,339.2 757.9,337.5 759.0,335.9 760.1,334.2 761.2,332.5 762.3,330.9 763.4,329.2 764.6,327.6 765.7,325.9 766.8,324.2 767.9,322.6 769.0,320.9 770.2,319.3 771.3,317.6 772.4,316.0 773.6,314.3 774.7,312.7 775.9,311.1 777.0,309.4 778.2,307.8 779.4,306.2 780.5,304.6 781.7,302.9 782.9,301.3 784.1,299.7 785.3,298.2 786.5,296.6 787.8,295.0 789.0,293.4 790.2,291.9 791.5,290.3 792.8,288.7 794.1,287.2 795.3,285.7 796.6,284.2 798.0,282.7 799.3,281.2 800.6,279.7 802.0,278.2 803.3,276.7 804.7,275.3 806.1,273.9 807.5,272.4 808.9,271.0 810.4,269.6 811.8,268.2 813.3,266.9 814.8,265.5 816.3,264.2 817.8,262.9 819.3,261.6 820.8,260.3 822.4,259.1 824.0,257.8 825.6,256.6 827.2,255.4 828.8,254.3 830.4,253.1 832.1,252.0 833.7,250.9 835.4,249.8 837.1,248.8 838.8,247.7 840.6,246.7 842.3,245.7 844.0,244.7 845.8,243.8 847.6,242.8 849.3,241.9 851.1,241.0 852.9,240.1 854.7,239.2 856.5,238.4 858.3,237.5 860.2,236.7 862.0,235.9 863.8,235.1 865.7,234.3 867.5,233.6 869.4,232.8 871.2,232.1 873.1,231.3 874.9,230.6 876.8,229.9 878.7,229.2 880.6,228.5 882.4,227.8 884.3,227.2 886.2,226.5 888.1,225.8 890.0,225.2 891.9,224.6 893.8,224.0 895.7,223.3 897.6,222.7 899.5,222.2 901.4,221.6 903.4,221.0 905.3,220.5 907.2,220.0 909.1,219.4 911.1,218.9 913.0,218.4 915.0,218.0 916.9,217.5 918.8,217.0 920.8,216.6 922.8,216.2 924.7,215.8 926.7,215.4 928.6,215.0 930.6,214.7 932.6,214.4 934.6,214.0 936.5,213.7 938.5,213.5 940.5,213.2 942.5,212.9 944.5,212.7 946.5,212.5 948.4,212.3 950.4,212.1 952.4,212.0 954.4,211.8 956.4,211.7 958.4,211.6 960.4,211.5 962.4,211.4 964.4,211.3 966.4,211.3 968.4,211.3 970.4,211.3 972.4,211.3 974.4,211.3 976.4,211.4 978.4,211.4 980.4,211.5 982.4,211.6 984.4,211.7 986.4,211.9 988.4,212.0 990.4,212.2 992.4,212.4 994.4,212.6 996.4,212.8 998.3,213.0 1000.3,213.3 1002.3,213.6 1004.3,213.9 1006.3,214.2 1008.2,214.5 1010.2,214.9 1012.2,215.2 1014.1,215.6 1016.1,216.0 1018.0,216.4 1020.0,216.9 1021.9,217.3 1023.9,217.8 1025.8,218.3 1027.8,218.8 1029.7,219.4 1031.6,219.9 1033.5,220.5 1035.4,221.1 1037.3,221.7 1039.2,222.3 1041.1,223.0 1043.0,223.6 1044.9,224.3 1046.8,225.0 1048.6,225.8 1050.5,226.5 1052.3,227.3 1054.2,228.1 1056.0,228.9 1057.8,229.7 1059.6,230.5 1061.4,231.4 1063.2,232.3 1065.0,233.2 1066.8,234.1 1068.6,235.0 1070.3,236.0 1072.1,237.0 1073.8,238.0 1075.5,239.0 1077.2,240.0 1078.9,241.1 1080.6,242.2 1082.3,243.3 1083.9,244.4 1085.6,245.5 1087.2,246.7 1088.8,247.8 1090.5,249.0 1092.1,250.2 1093.6,251.4 1095.2,252.7 1096.8,253.9 1098.3,255.2 1099.9,256.5 1101.4,257.8 1102.9,259.1 1104.4,260.4 1105.8,261.8 1107.3,263.1 1108.8,264.5 1110.2,265.9 1111.6,267.3 1113.0,268.7 1114.4,270.2 1115.8,271.6 1117.2,273.1 1118.5,274.6 1119.8,276.0 1121.2,277.5 1122.5,279.1 1123.8,280.6 1125.0,282.1 1126.3,283.7 1127.6,285.2 1128.8,286.8 1130.0,288.4 1131.3,289.9 1132.5,291.5 1133.7,293.1 1134.9,294.7 1136.1,296.4 1137.2,298.0 1138.4,299.6 1139.6,301.2 1140.7,302.9 1141.9,304.5 1143.0,306.2 1144.1,307.8 1145.2,309.5 1146.4,311.1 1147.5,312.8 1148.6,314.4 1149.7,316.1 1150.8,317.8 1151.9,319.5 1153.0,321.1 1154.1,322.8 1155.2,324.5 1156.2,326.2 1157.3,327.8 1158.4,329.5 1159.5,331.2 1160.6,332.9 1161.7,334.6 1162.8,336.2 1163.8,337.9 1164.9,339.6 1166.0,341.3 1167.1,343.0 1168.2,344.6 1169.3,346.3 1170.4,348.0 1171.5,349.7 1172.5,351.3 1173.6,353.0 1174.7,354.7 1175.8,356.4 1176.9,358.1 1178.0,359.7 1179.1,361.4 1180.2,363.1 1181.2,364.8 1182.3,366.4 1183.4,368.1 1184.5,369.8 1185.6,371.5 1186.7,373.1 1187.8,374.8 1188.9,376.5 1190.0,378.2 1191.1,379.8 1192.2,381.5 1193.3,383.2 1194.4,384.9 1195.5,386.5 1196.6,388.2 1197.7,389.9 1198.8,391.6 1199.8,393.2 1200.9,394.9 1202.0,396.6 1203.1,398.2 1204.2,399.9 1205.4,401.6 1206.5,403.2 1207.6,404.9 1208.7,406.6 1209.8,408.2 1210.9,409.9 1212.0,411.6 1213.1,413.2 1214.2,414.9 1215.3,416.6 1216.4,418.2 1217.5,419.9 1218.6,421.6 1219.7,423.2 1220.9,424.9 1222.0,426.6 1223.1,428.2 1224.2,429.9 1225.3,431.5 1226.4,433.2 1227.6,434.8 1228.7,436.5 1229.8,438.2 1230.9,439.8 1232.0,441.5 1233.2,443.1 1234.3,444.8 1235.4,446.4 1236.5,448.1 1237.7,449.7 1238.8,451.4 1239.9,453.0 1241.1,454.7 1242.2,456.3 1243.3,458.0 1244.5,459.6 1245.6,461.3 1246.7,462.9 1247.9,464.6 1249.0,466.2 1250.2,467.8 1251.3,469.5 1252.5,471.1 1253.6,472.8 1254.7,474.4 1255.9,476.0 1257.0,477.7 1258.2,479.3 1259.3,480.9 1260.5,482.6 1261.7,484.2 1262.8,485.8 1264.0,487.5 1265.1,489.1 1266.3,490.7 1267.5,492.4 1268.6,494.0 1269.8,495.6 1271.0,497.2 1272.1,498.9 1273.3,500.5 1274.5,502.1 1275.6,503.7 1276.8,505.3 1278.0,507.0 1279.2,508.6 1280.4,510.2 1281.5,511.8 1282.7,513.4 1283.9,515.0 1285.1,516.6 1286.3,518.2 1287.5,519.8 1288.7,521.4 1289.9,523.1 1291.1,524.7 1292.3,526.3 1293.5,527.9 1294.7,529.5 1295.9,531.1 1297.1,532.7 1298.3,534.2 1299.5,535.8 1300.7,537.4 1301.9,539.0 1303.1,540.6 1304.3,542.2 1305.5,543.8 1306.7,545.4 1307.9,547.0 1309.1,548.6 1310.3,550.2 1311.5,551.8 1312.7,553.4 1313.9,555.0 1315.1,556.6 1316.3,558.3 1317.4,559.9 1318.6,561.5 1319.8,563.1 1320.9,564.7 1322.1,566.4 1323.2,568.0 1324.4,569.7 1325.5,571.3 1326.6,573.0 1327.8,574.6 1328.9,576.3 1330.0,577.9 1331.1,579.6 1332.2,581.3 1333.2,583.0 1334.3,584.7 1335.3,586.4 1336.4,588.1 1337.4,589.8 1338.4,591.5 1339.5,593.2 1340.4,595.0 1341.4,596.7 1342.4,598.5 1343.4,600.2 1344.3,602.0 1345.3,603.7 1346.2,605.5 1347.1,607.3 1348.0,609.1 1348.9,610.9 1349.8,612.7 1350.7,614.5 1351.5,616.3 1352.4,618.1 1353.2,619.9 1354.1,621.7 1354.9,623.5 1355.7,625.3 1356.5,627.2 1357.3,629.0 1358.1,630.8 1358.9,632.7 1359.7,634.5 1360.4,636.4 1361.2,638.2 1362.0,640.1 1362.7,641.9 1363.5,643.8 1364.2,645.6 1364.9,647.5 1365.6,649.4 1366.4,651.2 1367.1,653.1 1367.8,655.0 1368.5,656.9 1369.2,658.7 1369.9,660.6 1370.6,662.5 1371.3,664.4 1372.0,666.2 1372.6,668.1 1373.3,670.0 1374.0,671.9 1374.7,673.7 1375.4,675.6 1376.1,677.5 1376.8,679.4 1377.5,681.3 1378.1,683.1 1378.8,685.0 1379.5,686.9 1380.2,688.8 1381.0,690.6 1381.7,692.5 1382.4,694.4 1383.1,696.2 1383.8,698.1 1384.6,699.9 1385.3,701.8 1386.1,703.7 1386.8,705.5 1387.6,707.3 1388.4,709.2 1389.2,711.0 1390.0,712.9 1390.8,714.7 1391.6,716.5 1392.4,718.3 1393.3,720.2 1394.1,722.0 1395.0,723.8 1395.9,725.6 1396.8,727.3 1397.7,729.1 1398.6,730.9 1399.5,732.7 1400.5,734.4 1401.5,736.2 1402.5,737.9 1403.5,739.6 1404.5,741.4 1405.5,743.1 1406.5,744.8 1407.6,746.5 1408.6,748.2 1409.7,749.9 1410.8,751.5 1411.9,753.2 1413.0,754.9 1414.1,756.5 1415.3,758.2 1416.4,759.8 1417.6,761.5 1418.7,763.1 1419.9,764.7 1421.0,766.4 1422.2,768.0 1423.3,769.6 1424.5,771.3 1425.6,772.9 1426.8,774.6 1427.9,776.2 1429.0,777.9 1430.1,779.5 1431.2,781.2 1432.3,782.9 1433.4,784.6 1434.4,786.3 1435.4,788.0 1436.5,789.7 1437.5,791.4 1438.5,793.2 1439.4,794.9 1440.4,796.7 1441.3,798.5 1442.2,800.2 1443.2,802.0 1444.1,803.8 1444.9,805.6 1445.8,807.4 1446.7,809.2 1447.5,811.0 1448.3,812.8 1449.2,814.7 1450.0,816.5 1450.8,818.3 1451.5,820.2 1452.3,822.0 1453.1,823.9 1453.8,825.7 1454.6,827.6 1455.3,829.4 1456.1,831.3 1456.8,833.1 1457.5,835.0 1458.2,836.9 1458.9,838.8 1459.6,840.6 1460.3,842.5 1461.0,844.4 1461.6,846.3 1462.3,848.2 1463.0,850.0 1463.6,851.9 1464.3,853.8 1464.9,855.7 1465.6,857.6 1466.2,859.5 1466.9,861.4 1467.5,863.3 1468.2,865.2 1468.8,867.1 1469.4,869.0 1470.1,870.9 1470.7,872.8 1471.4,874.7 1472.0,876.6 1472.6,878.4 1473.3,880.3 1473.9,882.2 1474.6,884.1 1475.2,886.0 1475.9,887.9 1476.5,889.8 1477.2,891.7 1477.8,893.6 1478.5,895.5 1479.2,897.3 1479.9,899.2 1480.5,901.1 1481.2,903.0 1481.9,904.9 1482.6,906.7 1483.3,908.6 1484.0,910.5 1484.7,912.4 1485.4,914.2 1486.1,916.1 1486.9,918.0 1487.6,919.8 1488.3,921.7 1489.1,923.5 1489.8,925.4 1490.6,927.2 1491.3,929.1 1492.1,930.9 1492.9,932.8 1493.7,934.6 1494.4,936.5 1495.2,938.3 1496.0,940.1 1496.8,942.0 1497.7,943.8 1498.5,945.6 1499.3,947.4 1500.2,949.2 1501.0,951.1 1501.9,952.9 1502.7,954.7 1503.6,956.5 1504.5,958.3 1505.4,960.0 1506.3,961.8 1507.2,963.6 1508.1,965.4 1509.1,967.2 1510.0,968.9 1510.9,970.7 1511.9,972.4 1512.9,974.2 1513.8,975.9 1514.8,977.7 1515.8,979.4 1516.8,981.2 1517.8,982.9 1518.7,984.7 1519.7,986.4 1520.7,988.1 1521.7,989.9 1522.7,991.6 1523.7,993.3 1524.7,995.1 1525.7,996.8 1526.7,998.6 1527.6,1000.3 1528.6,1002.0 1529.6,1003.8 1530.6,1005.5 1531.6,1007.3 1532.5,1009.0 1533.5,1010.8 1534.4,1012.5 1535.4,1014.3 1536.4,1016.1 1537.3,1017.8 1538.2,1019.6 1539.2,1021.4 1540.1,1023.1 1541.0,1024.9 1541.9,1026.7 1542.8,1028.5 1543.7,1030.3 1544.6,1032.1 1545.5,1033.8 1546.3,1035.7 1547.2,1037.5 1548.0,1039.3 1548.9,1041.1 1549.7,1042.9 1550.5,1044.7 1551.3,1046.6 1552.1,1048.4 1552.9,1050.3 1553.6,1052.1 1554.4,1054.0 1555.1,1055.8 1555.9,1057.7 1556.6,1059.5 1557.3,1061.4 1558.0,1063.3 1558.7,1065.2 1559.4,1067.0 1560.1,1068.9 1560.7,1070.8 1561.4,1072.7 1562.0,1074.6 1562.7,1076.5 1563.3,1078.4 1563.9,1080.3 1564.5,1082.2 1565.2,1084.1 1565.8,1086.0 1566.4,1087.9 1567.0,1089.8 1567.5,1091.7 1568.1,1093.6 1568.7,1095.5 1569.3,1097.5 1569.9,1099.4 1570.4,1101.3 1571.0,1103.2 1571.5,1105.1 1572.1,1107.1 1572.7,1109.0 1573.2,1110.9 1573.8,1112.8 1574.3,1114.7 1574.8,1116.7 1575.4,1118.6 1575.9,1120.5 1576.5,1122.4 1577.0,1124.4 1577.6,1126.3 1578.1,1128.2 1578.6,1130.1 1579.2,1132.1 1579.7,1134.0 1580.3,1135.9 1580.8,1137.8 1581.4,1139.8 1581.9,1141.7 1582.5,1143.6 1583.0,1145.5 1583.6,1147.4 1584.2,1149.4 1584.7,1151.3 1585.3,1153.2 1585.9,1155.1 1586.5,1157.0 1587.0,1158.9 1587.6,1160.9 1588.2,1162.8 1588.8,1164.7 1589.4,1166.6 1590.0,1168.5 1590.7,1170.4 1591.3,1172.3 1591.9,1174.2 1592.6,1176.1 1593.2,1178.0 1593.9,1179.9 1594.6,1181.7 1595.3,1183.6 1596.0,1185.5 1596.7,1187.3 1597.4,1189.2 1598.2,1191.0 1599.0,1192.9 1599.8,1194.7 1600.7,1196.5 1601.5,1198.3 1602.4,1200.1 1603.4,1201.9 1604.3,1203.6 1605.3,1205.4 1606.3,1207.1 1607.4,1208.8 1608.5,1210.4 1609.7,1212.1 1610.9,1213.7 1612.1,1215.2 1613.4,1216.8 1614.7,1218.3 1616.1,1219.7 1617.5,1221.1 1619.0,1222.5 1620.5,1223.8 1622.1,1225.0 1623.7,1226.2 1625.4,1227.3 1627.1,1228.4 1628.8,1229.4 1630.6,1230.3 1632.4,1231.2 1634.2,1232.0 1636.1,1232.7 1638.0,1233.3 1639.9,1233.9 1641.8,1234.5 1643.0,1235.4" fill="none" stroke="#D95319" stroke-width="8.0" stroke-linejoin="round" stroke-linecap="butt"/>
<polyline points="253.6,1234.5 255.6,1234.7 257.6,1235.0 259.6,1235.1 261.6,1235.2 263.6,1235.3 265.6,1235.3 267.6,1235.2 269.6,1235.1 271.6,1234.9 273.5,1234.7 275.5,1234.4 277.5,1234.1 279.5,1233.7 281.4,1233.3 283.3,1232.8 285.3,1232.3 287.2,1231.7 289.1,1231.0 291.0,1230.4 292.8,1229.6 294.7,1228.9 296.5,1228.0 298.3,1227.2 300.1,1226.3 301.9,1225.3 303.6,1224.4 305.3,1223.4 307.0,1222.3 308.7,1221.2 310.4,1220.1 312.0,1218.9 313.6,1217.8 315.2,1216.5 316.8,1215.3 318.3,1214.0 319.8,1212.7 321.3,1211.4 322.8,1210.1 324.3,1208.7 325.7,1207.3 327.1,1205.9 328.5,1204.4 329.9,1203.0 331.2,1201.5 332.5,1200.0 333.8,1198.5 335.1,1196.9 336.3,1195.4 337.6,1193.8 338.8,1192.2 340.0,1190.6 341.1,1189.0 342.3,1187.3 343.4,1185.7 344.5,1184.0 345.6,1182.3 346.6,1180.6 347.6,1178.9 348.7,1177.2 349.6,1175.4 350.6,1173.7 351.6,1171.9 352.5,1170.1 353.4,1168.4 354.3,1166.6 355.1,1164.8 356.0,1162.9 356.8,1161.1 357.6,1159.3 358.4,1157.5 359.2,1155.6 359.9,1153.8 360.7,1151.9 361.4,1150.0 362.1,1148.2 362.8,1146.3 363.5,1144.4 364.1,1142.5 364.8,1140.6 365.4,1138.7 366.0,1136.8 366.6,1134.9 367.2,1133.0 367.8,1131.1 368.4,1129.2 369.0,1127.3 369.5,1125.3 370.0,1123.4 370.6,1121.5 371.1,1119.6 371.6,1117.6 372.1,1115.7 372.6,1113.7 373.1,1111.8 373.6,1109.9 374.0,1107.9 374.5,1106.0 375.0,1104.0 375.4,1102.1 375.9,1100.1 376.3,1098.2 376.7,1096.2 377.2,1094.3 377.6,1092.3 378.0,1090.4 378.5,1088.4 378.9,1086.5 379.3,1084.5 379.7,1082.6 380.1,1080.6 380.6,1078.6 381.0,1076.7 381.4,1074.7 381.8,1072.8 382.2,1070.8 382.7,1068.9 383.1,1066.9 383.5,1065.0 383.9,1063.0 384.3,1061.0 384.8,1059.1 385.2,1057.1 385.7,1055.2 386.1,1053.2 386.5,1051.3 387.0,1049.3 387.5,1047.4 387.9,1045.4 388.4,1043.5 388.9,1041.6 389.3,1039.6 389.8,1037.7 390.3,1035.7 390.8,1033.8 391.3,1031.9 391.8,1029.9 392.4,1028.0 392.9,1026.1 393.4,1024.2 394.0,1022.2 394.5,1020.3 395.1,1018.4 395.6,1016.5 396.2,1014.5 396.7,1012.6 397.3,1010.7 397.9,1008.8 398.5,1006.9 399.0,1005.0 399.6,1003.0 400.2,1001.1 400.8,999.2 401.4,997.3 402.0,995.4 402.6,993.5 403.2,991.6 403.9,989.7 404.5,987.8 405.1,985.9 405.7,984.0 406.4,982.1 407.0,980.2 407.7,978.3 408.3,976.4 408.9,974.5 409.6,972.6 410.2,970.7 410.9,968.9 411.6,967.0 412.2,965.1 412.9,963.2 413.6,961.3 414.2,959.4 414.9,957.5 415.6,955.7 416.2,953.8 416.9,951.9 417.6,950.0 418.3,948.1 419.0,946.3 419.6,944.4 420.3,942.5 421.0,940.6 421.7,938.7 422.4,936.9 423.1,935.0 423.8,933.1 424.5,931.2 425.2,929.4 425.8,927.5 426.5,925.6 427.2,923.7 427.9,921.8 428.6,920.0 429.3,918.1 430.0,916.2 430.7,914.3 431.4,912.5 432.1,910.6 432.8,908.7 433.5,906.8 434.2,905.0 434.9,903.1 435.6,901.2 436.3,899.3 436.9,897.5 437.6,895.6 438.3,893.7 439.0,891.8 439.7,889.9 440.4,888.1 441.1,886.2 441.7,884.3 442.4,882.4 443.1,880.5 443.8,878.7 444.4,876.8 445.1,874.9 445.8,873.0 446.4,871.1 447.1,869.2 447.8,867.3 448.4,865.5 449.1,863.6 449.7,861.7 450.4,859.8 451.0,857.9 451.7,856.0 452.3,854.1 452.9,852.2 453.6,850.3 454.2,848.4 454.8,846.5 455.4,844.6 456.1,842.7 456.7,840.8 457.3,838.9 457.9,837.0 458.6,835.1 459.2,833.2 459.8,831.3 460.5,829.4 461.1,827.5 461.7,825.6 462.4,823.7 463.0,821.8 463.7,819.9 464.3,818.0 465.0,816.2 465.6,814.3 466.3,812.4 467.0,810.5 467.7,808.6 468.3,806.7 469.0,804.9 469.8,803.0 470.5,801.1 471.2,799.3 471.9,797.4 472.7,795.6 473.4,793.7 474.2,791.9 475.0,790.0 475.7,788.2 476.5,786.3 477.3,784.5 478.1,782.7 478.9,780.8 479.8,779.0 480.6,777.2 481.4,775.4 482.3,773.6 483.1,771.8 484.0,770.0 484.9,768.2 485.7,766.4 486.6,764.6 487.5,762.8 488.4,761.0 489.3,759.2 490.2,757.4 491.2,755.6 492.1,753.9 493.0,752.1 494.0,750.3 494.9,748.6 495.8,746.8 496.8,745.0 497.7,743.3 498.7,741.5 499.7,739.8 500.6,738.0 501.6,736.3 502.6,734.5 503.6,732.8 504.5,731.0 505.5,729.3 506.5,727.6 507.5,725.8 508.5,724.1 509.5,722.3 510.4,720.6 511.4,718.9 512.4,717.1 513.4,715.4 514.4,713.7 515.4,711.9 516.4,710.2 517.4,708.4 518.4,706.7 519.3,705.0 520.3,703.2 521.3,701.5 522.3,699.7 523.3,698.0 524.2,696.2 525.2,694.5 526.2,692.7 527.2,691.0 528.1,689.2 529.1,687.5 530.0,685.7 531.0,684.0 531.9,682.2 532.9,680.4 533.8,678.7 534.7,676.9 535.6,675.1 536.6,673.3 537.5,671.6 538.4,669.8 539.3,668.0 540.2,666.2 541.1,664.4 542.0,662.6 542.9,660.9 543.8,659.1 544.7,657.3 545.5,655.5 546.4,653.7 547.3,651.9 548.2,650.1 549.0,648.3 549.9,646.5 550.8,644.7 551.6,642.9 552.5,641.1 553.3,639.3 554.2,637.4 555.0,635.6 555.9,633.8 556.7,632.0 557.6,630.2 558.4,628.4 559.3,626.6 560.1,624.8 561.0,622.9 561.8,621.1 562.6,619.3 563.5,617.5 564.3,615.7 565.2,613.9 566.0,612.0 566.8,610.2 567.7,608.4 568.5,606.6 569.3,604.8 570.2,603.0 571.0,601.2 571.8,599.3 572.7,597.5 573.5,595.7 574.4,593.9 575.2,592.1 576.0,590.3 576.9,588.4 577.7,586.6 578.6,584.8 579.4,583.0 580.3,581.2 581.1,579.4 582.0,577.6 582.8,575.8 583.7,574.0 584.6,572.2 585.4,570.4 586.3,568.6 587.2,566.8 588.0,564.9 588.9,563.1 589.8,561.3 590.6,559.5 591.5,557.7 592.4,556.0 593.3,554.2 594.1,552.4 595.0,550.6 595.9,548.8 596.8,547.0 597.7,545.2 598.6,543.4 599.5,541.6 600.3,539.8 601.2,538.0 602.1,536.2 603.0,534.4 603.9,532.7 604.8,530.9 605.7,529.1 606.6,527.3 607.5,525.5 608.4,523.7 609.4,521.9 610.3,520.2 611.2,518.4 612.1,516.6 613.0,514.8 613.9,513.0 614.8,511.3 615.7,509.5 616.7,507.7 617.6,505.9 618.5,504.2 619.4,502.4 620.3,500.6 621.3,498.8 622.2,497.1 623.1,495.3 624.1,493.5 625.0,491.8 625.9,490.0 626.8,488.2 627.8,486.4 628.7,484.7 629.7,482.9 630.6,481.1 631.5,479.4 632.5,477.6 633.4,475.8 634.3,474.1 635.3,472.3 636.2,470.6 637.2,468.8 638.1,467.0 639.1,465.3 640.0,463.5 641.0,461.7 641.9,460.0 642.9,458.2 643.8,456.5 644.8,454.7 645.7,452.9 646.7,451.2 647.6,449.4 648.6,447.7 649.5,445.9 650.5,444.2 651.5,442.4 652.4,440.7 653.4,438.9 654.3,437.1 655.3,435.4 656.3,433.6 657.2,431.9 658.2,430.1 659.2,428.4 660.1,426.6 661.1,424.9 662.1,423.1 663.0,421.4 664.0,419.6 665.0,417.9 666.0,416.2 666.9,414.4 667.9,412.7 668.9,410.9 669.9,409.2 670.9,407.4 671.9,405.7 672.8,404.0 673.8,402.2 674.8,400.5 675.8,398.7 676.8,397.0 677.8,395.3 678.8,393.5 679.8,391.8 680.8,390.1 681.8,388.3 682.8,386.6 683.8,384.9 684.8,383.1 685.8,381.4 686.8,379.7 687.8,378.0 688.8,376.2 689.9,374.5 690.9,372.8 691.9,371.1 692.9,369.4 693.9,367.6 695.0,365.9 696.0,364.2 697.0,362.5 698.0,360.8 699.1,359.1 700.1,357.3 701.1,355.6 702.2,353.9 703.2,352.2 704.3,350.5 705.3,348.8 706.4,347.1 707.4,345.4 708.5,343.7 709.5,342.0 710.6,340.3 711.6,338.6 712.7,336.9 713.7,335.2 714.8,333.5 715.9,331.8 716.9,330.1 718.0,328.4 719.1,326.8 720.2,325.1 721.2,323.4 722.3,321.7 723.4,320.0 724.5,318.3 725.6,316.7 726.7,315.0 727.8,313.3 728.9,311.6 730.0,310.0 731.1,308.3 732.2,306.6 733.3,305.0 734.4,303.3 735.5,301.7 736.6,300.0 737.7,298.3 738.9,296.7 740.0,295.0 741.1,293.4 742.2,291.7 743.4,290.1 744.5,288.4 745.6,286.8 746.8,285.1 747.9,283.5 749.1,281.8 750.2,280.2 751.4,278.6 752.5,276.9 753.7,275.3 754.9,273.7 756.0,272.1 757.2,270.5 758.4,268.9 759.6,267.3 760.8,265.7 762.0,264.1 763.3,262.5 764.5,260.9 765.7,259.4 767.0,257.8 768.3,256.3 769.6,254.8 770.9,253.2 772.2,251.7 773.6,250.3 774.9,248.8 776.3,247.3 777.7,245.9 779.1,244.5 780.5,243.1 782.0,241.7 783.4,240.4 784.9,239.0 786.4,237.7 788.0,236.4 789.5,235.2 791.1,233.9 792.7,232.7 794.3,231.6 796.0,230.4 797.6,229.3 799.3,228.2 801.0,227.2 802.7,226.2 804.5,225.2 806.3,224.3 808.0,223.4 809.8,222.5 811.7,221.7 813.5,220.9 815.3,220.1 817.2,219.3 819.1,218.6 820.9,217.9 822.8,217.3 824.7,216.6 826.6,216.0 828.5,215.3 830.4,214.7 832.3,214.1 834.2,213.5 836.1,213.0 838.1,212.4 840.0,211.8 841.9,211.3 843.8,210.7 845.7,210.1 847.7,209.6 849.6,209.0 851.5,208.4 853.4,207.8 855.3,207.2 857.2,206.6 859.1,206.0 861.0,205.4 862.9,204.7 864.8,204.1 866.7,203.5 868.6,202.8 870.5,202.2 872.4,201.5 874.3,200.9 876.2,200.2 878.0,199.5 879.9,198.9 881.8,198.2 883.7,197.5 885.6,196.8 887.5,196.2 889.3,195.5 891.2,194.8 893.1,194.1 895.0,193.4 896.9,192.8 898.7,192.1 900.6,191.4 902.5,190.7 904.4,190.0 906.3,189.4 908.2,188.7 910.0,188.1 911.9,187.4 913.8,186.8 915.7,186.2 917.7,185.6 919.6,185.0 921.5,184.5 923.4,184.0 925.4,183.5 927.3,183.0 929.3,182.6 931.2,182.3 933.2,181.9 935.2,181.7 937.2,181.4 939.2,181.3 941.2,181.2 943.2,181.1 945.2,181.2 947.2,181.3 949.2,181.5 951.1,181.7 953.1,182.1 955.1,182.4 957.0,182.8 959.0,183.2 960.9,183.7 962.9,184.2 964.8,184.6 966.8,185.1 968.7,185.6 970.7,186.0 972.6,186.5 974.6,186.9 976.5,187.3 978.5,187.7 980.4,188.2 982.4,188.6 984.4,189.0 986.3,189.4 988.3,189.8 990.2,190.2 992.2,190.6 994.2,191.0 996.1,191.4 998.1,191.8 1000.0,192.2 1002.0,192.6 1004.0,193.0 1005.9,193.4 1007.9,193.8 1009.8,194.2 1011.8,194.6 1013.7,195.0 1015.7,195.4 1017.7,195.8 1019.6,196.2 1021.6,196.7 1023.5,197.1 1025.5,197.5 1027.4,198.0 1029.4,198.4 1031.3,198.9 1033.3,199.4 1035.2,199.8 1037.1,200.3 1039.1,200.8 1041.0,201.3 1043.0,201.8 1044.9,202.4 1046.8,202.9 1048.7,203.5 1050.7,204.0 1052.6,204.6 1054.5,205.2 1056.4,205.8 1058.3,206.4 1060.2,207.0 1062.1,207.7 1064.0,208.4 1065.8,209.0 1067.7,209.7 1069.6,210.5 1071.4,211.2 1073.3,212.0 1075.1,212.7 1077.0,213.5 1078.8,214.3 1080.6,215.2 1082.4,216.1 1084.2,216.9 1086.0,217.9 1087.7,218.8 1089.5,219.7 1091.2,220.7 1093.0,221.7 1094.7,222.8 1096.4,223.8 1098.1,224.9 1099.7,226.0 1101.4,227.2 1103.0,228.3 1104.6,229.5 1106.2,230.7 1107.8,231.9 1109.3,233.2 1110.9,234.5 1112.4,235.7 1113.9,237.1 1115.4,238.4 1116.9,239.7 1118.4,241.1 1119.8,242.4 1121.3,243.8 1122.7,245.2 1124.1,246.7 1125.5,248.1 1126.9,249.5 1128.3,251.0 1129.6,252.4 1131.0,253.9 1132.3,255.4 1133.7,256.9 1135.0,258.4 1136.3,259.9 1137.6,261.4 1138.9,263.0 1140.2,264.5 1141.4,266.0 1142.7,267.6 1144.0,269.1 1145.2,270.7 1146.4,272.3 1147.7,273.8 1148.9,275.4 1150.1,277.0 1151.4,278.6 1152.6,280.2 1153.8,281.8 1155.0,283.4 1156.2,285.0 1157.4,286.6 1158.6,288.2 1159.8,289.8 1161.0,291.4 1162.2,293.0 1163.3,294.6 1164.5,296.2 1165.7,297.8 1166.9,299.4 1168.0,301.1 1169.2,302.7 1170.4,304.3 1171.5,306.0 1172.7,307.6 1173.8,309.2 1175.0,310.9 1176.1,312.5 1177.3,314.1 1178.4,315.8 1179.6,317.4 1180.7,319.1 1181.8,320.7 1183.0,322.4 1184.1,324.0 1185.2,325.7 1186.3,327.3 1187.4,329.0 1188.6,330.7 1189.7,332.3 1190.8,334.0 1191.9,335.7 1193.0,337.3 1194.1,339.0 1195.2,340.7 1196.3,342.3 1197.4,344.0 1198.5,345.7 1199.5,347.4 1200.6,349.0 1201.7,350.7 1202.8,352.4 1203.9,354.1 1204.9,355.8 1206.0,357.5 1207.1,359.2 1208.1,360.9 1209.2,362.6 1210.3,364.2 1211.3,365.9 1212.4,367.6 1213.4,369.3 1214.5,371.0 1215.5,372.7 1216.6,374.4 1217.6,376.1 1218.7,377.9 1219.7,379.6 1220.8,381.3 1221.8,383.0 1222.8,384.7 1223.9,386.4 1224.9,388.1 1225.9,389.8 1227.0,391.5 1228.0,393.3 1229.0,395.0 1230.0,396.7 1231.1,398.4 1232.1,400.1 1233.1,401.9 1234.1,403.6 1235.1,405.3 1236.1,407.1 1237.1,408.8 1238.1,410.5 1239.1,412.2 1240.1,414.0 1241.1,415.7 1242.1,417.5 1243.1,419.2 1244.1,420.9 1245.0,422.7 1246.0,424.4 1247.0,426.2 1248.0,427.9 1249.0,429.7 1249.9,431.4 1250.9,433.1 1251.9,434.9 1252.8,436.7 1253.8,438.4 1254.8,440.2 1255.7,441.9 1256.7,443.7 1257.6,445.4 1258.6,447.2 1259.5,449.0 1260.5,450.7 1261.4,452.5 1262.3,454.2 1263.3,456.0 1264.2,457.8 1265.1,459.6 1266.1,461.3 1267.0,463.1 1267.9,464.9 1268.8,466.6 1269.8,468.4 1270.7,470.2 1271.6,472.0 1272.5,473.8 1273.4,475.5 1274.3,477.3 1275.2,479.1 1276.1,480.9 1277.0,482.7 1277.9,484.5 1278.8,486.3 1279.7,488.1 1280.6,489.9 1281.5,491.6 1282.3,493.4 1283.2,495.2 1284.1,497.0 1285.0,498.8 1285.8,500.6 1286.7,502.4 1287.6,504.2 1288.4,506.1 1289.3,507.9 1290.1,509.7 1291.0,511.5 1291.8,513.3 1292.7,515.1 1293.5,516.9 1294.4,518.7 1295.2,520.5 1296.0,522.4 1296.9,524.2 1297.7,526.0 1298.5,527.8 1299.3,529.6 1300.2,531.5 1301.0,533.3 1301.8,535.1 1302.6,536.9 1303.4,538.8 1304.2,540.6 1305.0,542.4 1305.8,544.3 1306.6,546.1 1307.4,547.9 1308.2,549.8 1309.0,551.6 1309.8,553.4 1310.6,555.3 1311.4,557.1 1312.2,558.9 1313.0,560.8 1313.8,562.6 1314.6,564.4 1315.4,566.3 1316.2,568.1 1317.0,570.0 1317.8,571.8 1318.6,573.6 1319.4,575.5 1320.2,577.3 1321.0,579.1 1321.8,581.0 1322.6,582.8 1323.4,584.6 1324.2,586.5 1325.0,588.3 1325.8,590.1 1326.6,591.9 1327.4,593.8 1328.2,595.6 1329.0,597.4 1329.8,599.3 1330.7,601.1 1331.5,602.9 1332.3,604.7 1333.2,606.5 1334.0,608.4 1334.8,610.2 1335.7,612.0 1336.5,613.8 1337.4,615.6 1338.2,617.4 1339.1,619.2 1339.9,621.0 1340.8,622.8 1341.7,624.6 1342.6,626.4 1343.4,628.2 1344.3,630.0 1345.2,631.8 1346.1,633.6 1347.0,635.4 1347.9,637.2 1348.9,638.9 1349.8,640.7 1350.7,642.5 1351.6,644.2 1352.6,646.0 1353.5,647.8 1354.5,649.5 1355.4,651.3 1356.4,653.0 1357.4,654.8 1358.4,656.5 1359.4,658.3 1360.4,660.0 1361.4,661.7 1362.4,663.5 1363.4,665.2 1364.4,666.9 1365.4,668.6 1366.4,670.3 1367.4,672.1 1368.5,673.8 1369.5,675.5 1370.5,677.2 1371.6,678.9 1372.6,680.6 1373.7,682.3 1374.7,684.0 1375.8,685.7 1376.8,687.4 1377.8,689.1 1378.9,690.8 1379.9,692.6 1381.0,694.3 1382.0,696.0 1383.1,697.7 1384.1,699.4 1385.2,701.1 1386.2,702.8 1387.3,704.5 1388.3,706.2 1389.4,707.9 1390.4,709.6 1391.4,711.3 1392.5,713.0 1393.5,714.7 1394.5,716.4 1395.6,718.2 1396.6,719.9 1397.6,721.6 1398.6,723.3 1399.6,725.0 1400.6,726.8 1401.6,728.5 1402.6,730.2 1403.6,732.0 1404.6,733.7 1405.6,735.5 1406.6,737.2 1407.5,739.0 1408.5,740.7 1409.4,742.5 1410.4,744.2 1411.3,746.0 1412.2,747.8 1413.2,749.6 1414.1,751.3 1415.0,753.1 1415.9,754.9 1416.8,756.7 1417.7,758.5 1418.6,760.3 1419.5,762.1 1420.3,763.9 1421.2,765.7 1422.1,767.5 1422.9,769.3 1423.8,771.1 1424.6,772.9 1425.4,774.7 1426.2,776.6 1427.0,778.4 1427.9,780.2 1428.6,782.1 1429.4,783.9 1430.2,785.7 1431.0,787.6 1431.7,789.4 1432.5,791.3 1433.2,793.1 1434.0,795.0 1434.7,796.9 1435.4,798.7 1436.1,800.6 1436.8,802.5 1437.5,804.3 1438.2,806.2 1438.9,808.1 1439.5,810.0 1440.2,811.9 1440.8,813.8 1441.5,815.7 1442.1,817.6 1442.7,819.5 1443.4,821.4 1444.0,823.3 1444.6,825.2 1445.2,827.1 1445.8,829.0 1446.4,830.9 1447.0,832.8 1447.6,834.7 1448.2,836.6 1448.8,838.5 1449.4,840.4 1450.1,842.3 1450.7,844.2 1451.3,846.1 1451.9,848.0 1452.6,849.9 1453.2,851.8 1453.8,853.7 1454.5,855.6 1455.2,857.5 1455.8,859.4 1456.5,861.3 1457.2,863.1 1457.9,865.0 1458.6,866.9 1459.3,868.8 1460.0,870.6 1460.8,872.5 1461.5,874.3 1462.2,876.2 1463.0,878.1 1463.7,879.9 1464.5,881.8 1465.2,883.6 1466.0,885.5 1466.7,887.3 1467.5,889.2 1468.3,891.0 1469.0,892.9 1469.8,894.7 1470.6,896.5 1471.4,898.4 1472.2,900.2 1472.9,902.1 1473.7,903.9 1474.5,905.7 1475.3,907.6 1476.1,909.4 1476.9,911.3 1477.7,913.1 1478.5,914.9 1479.2,916.8 1480.0,918.6 1480.8,920.5 1481.6,922.3 1482.4,924.1 1483.2,926.0 1483.9,927.8 1484.7,929.7 1485.5,931.5 1486.2,933.4 1487.0,935.2 1487.8,937.1 1488.5,938.9 1489.3,940.8 1490.0,942.6 1490.8,944.5 1491.5,946.3 1492.2,948.2 1493.0,950.1 1493.7,951.9 1494.4,953.8 1495.1,955.7 1495.8,957.5 1496.5,959.4 1497.2,961.3 1497.8,963.2 1498.5,965.1 1499.2,967.0 1499.8,968.9 1500.4,970.7 1501.1,972.6 1501.7,974.5 1502.3,976.5 1502.9,978.4 1503.5,980.3 1504.1,982.2 1504.7,984.1 1505.2,986.0 1505.8,987.9 1506.3,989.9 1506.9,991.8 1507.4,993.7 1508.0,995.6 1508.5,997.6 1509.0,999.5 1509.5,1001.4 1510.0,1003.4 1510.5,1005.3 1511.0,1007.2 1511.5,1009.2 1512.0,1011.1 1512.5,1013.0 1513.0,1015.0 1513.5,1016.9 1513.9,1018.9 1514.4,1020.8 1514.9,1022.8 1515.3,1024.7 1515.8,1026.7 1516.2,1028.6 1516.7,1030.6 1517.1,1032.5 1517.6,1034.5 1518.0,1036.4 1518.5,1038.4 1518.9,1040.3 1519.3,1042.3 1519.8,1044.2 1520.2,1046.2 1520.6,1048.1 1521.1,1050.1 1521.5,1052.0 1522.0,1054.0 1522.4,1055.9 1522.8,1057.9 1523.3,1059.8 1523.7,1061.8 1524.1,1063.7 1524.6,1065.7 1525.0,1067.6 1525.5,1069.6 1525.9,1071.5 1526.4,1073.5 1526.8,1075.4 1527.3,1077.4 1527.7,1079.3 1528.2,1081.3 1528.6,1083.2 1529.1,1085.2 1529.6,1087.1 1530.0,1089.1 1530.5,1091.0 1531.0,1092.9 1531.5,1094.9 1531.9,1096.8 1532.4,1098.8 1532.9,1100.7 1533.4,1102.6 1534.0,1104.6 1534.5,1106.5 1535.0,1108.4 1535.5,1110.4 1536.1,1112.3 1536.6,1114.2 1537.1,1116.1 1537.7,1118.1 1538.3,1120.0 1538.8,1121.9 1539.4,1123.8 1540.0,1125.7 1540.6,1127.6 1541.2,1129.5 1541.8,1131.4 1542.4,1133.3 1543.1,1135.2 1543.7,1137.1 1544.4,1139.0 1545.0,1140.9 1545.7,1142.8 1546.4,1144.7 1547.1,1146.5 1547.8,1148.4 1548.5,1150.3 1549.2,1152.2 1549.9,1154.0 1550.7,1155.9 1551.4,1157.7 1552.2,1159.6 1553.0,1161.4 1553.8,1163.2 1554.6,1165.1 1555.4,1166.9 1556.2,1168.7 1557.1,1170.5 1558.0,1172.3 1558.8,1174.1 1559.7,1175.9 1560.6,1177.7 1561.5,1179.5 1562.5,1181.3 1563.4,1183.0 1564.4,1184.8 1565.3,1186.5 1566.3,1188.3 1567.3,1190.0 1568.3,1191.7 1569.4,1193.4 1570.4,1195.1 1571.5,1196.8 1572.6,1198.5 1573.7,1200.2 1574.8,1201.8 1575.9,1203.5 1577.1,1205.1 1578.3,1206.7 1579.5,1208.3 1580.7,1209.9 1582.0,1211.4 1583.3,1212.9 1584.6,1214.4 1586.0,1215.9 1587.4,1217.3 1588.8,1218.7 1590.3,1220.0 1591.8,1221.3 1593.4,1222.6 1595.0,1223.8 1596.6,1224.9 1598.3,1226.0 1600.0,1227.1 1601.8,1228.0 1603.6,1228.9 1605.4,1229.8 1607.2,1230.6 1609.1,1231.3 1611.0,1231.9 1612.9,1232.5 1614.8,1233.0 1616.8,1233.5 1618.7,1233.9 1620.7,1234.3 1622.7,1234.6 1624.6,1234.9 1626.6,1235.2 1628.6,1235.4 1630.6,1235.4 1632.6,1235.4 1634.6,1235.4 1636.6,1235.4 1638.6,1235.4 1640.6,1235.4 1642.6,1235.4 1644.6,1235.4 1646.6,1235.4 1648.6,1235.4 1650.6,1235.4 1652.6,1235.4 1654.6,1235.4 1656.6,1235.4 1658.1,1235.4" fill="none" stroke="#EDB120" stroke-width="8.0" stroke-linejoin="round" stroke-linecap="butt"/>
<g font-weight="bold" font-size="54.0" fill="#262626">
<text transform="translate(210.7 1311.7) scale(1 1.03)" text-anchor="middle">-3000</text>
<text transform="translate(455.03 1311.7) scale(1 1.03)" text-anchor="middle">-2000</text>
<text transform="translate(699.37 1311.7) scale(1 1.03)" text-anchor="middle">-1000</text>
<text transform="translate(943.7 1311.7) scale(1 1.03)" text-anchor="middle">0</text>
<text transform="translate(1188.03 1311.7) scale(1 1.03)" text-anchor="middle">1000</text>
<text transform="translate(1432.37 1311.7) scale(1 1.03)" text-anchor="middle">2000</text>
<text transform="translate(1676.7 1311.7) scale(1 1.03)" text-anchor="middle">3000</text>
<text transform="translate(189.5 1256.4) scale(1 1.03)" text-anchor="end">0</text>
<text transform="translate(189.5 1065.75) scale(1 1.03)" text-anchor="end">0.5</text>
<text transform="translate(189.5 875.1) scale(1 1.03)" text-anchor="end">1</text>
<text transform="translate(189.5 684.45) scale(1 1.03)" text-anchor="end">1.5</text>
<text transform="translate(189.5 493.8) scale(1 1.03)" text-anchor="end">2</text>
<text transform="translate(189.5 303.15) scale(1 1.03)" text-anchor="end">2.5</text>
<text transform="translate(189.5 112.5) scale(1 1.03)" text-anchor="end">3</text>
</g>
<text x="214.5" y="86" font-size="65" fill="#262626">&#215;</text>
<text transform="translate(257.5 77.5) scale(1 1.03)" font-weight="bold" font-size="54.0" fill="#262626">10</text>
<text x="318" y="49.5" font-weight="bold" font-size="43.5" fill="#262626">-4</text>
<text x="944.8" y="1389.2" text-anchor="middle" font-weight="bold" font-size="59.8" fill="#262626">Doppler Frequency / Hz</text>
<text transform="translate(85.8 664.5) rotate(-90)" x="0" y="0" text-anchor="middle" font-weight="bold" font-size="59.8" fill="#262626">Spectral Density</text>
<rect x="1211.5" y="128.5" width="429" height="208.8" fill="#fff" stroke="#262626" stroke-width="2.8"/>
<path d="M1224 167.5H1361" stroke="#0072BD" stroke-width="7.0"/>
<text x="1369" y="185" font-weight="bold" font-size="48.9" fill="#000">0 degree</text>
<path d="M1224 232.6H1361" stroke="#D95319" stroke-width="7.0"/>
<text x="1369" y="250.1" font-weight="bold" font-size="48.9" fill="#000">90 degree</text>
<path d="M1224 298.9H1361" stroke="#EDB120" stroke-width="7.0"/>
<text x="1369" y="316.4" font-weight="bold" font-size="48.9" fill="#000">180 degree</text>
<text x="910" y="1491.6" text-anchor="middle" font-size="85" fill="#000" style="font-family:'Liberation Serif', serif;letter-spacing:-1.6px">(<tspan font-weight="bold">a</tspan>)</text>
<path d="M374.39 1621.5V2765.4M537.28 1621.5V2765.4M700.17 1621.5V2765.4M863.06 1621.5V2765.4M1025.94 1621.5V2765.4M1188.83 1621.5V2765.4M1351.72 1621.5V2765.4M1514.61 1621.5V2765.4" stroke="#262626" stroke-opacity="0.15" stroke-width="2.8" fill="none"/>
<path d="M211.5 2622.41H1677.5M211.5 2479.43H1677.5M211.5 2336.44H1677.5M211.5 2193.45H1677.5M211.5 2050.46H1677.5M211.5 1907.47H1677.5M211.5 1764.49H1677.5" stroke="#262626" stroke-opacity="0.15" stroke-width="2.8" fill="none"/>
<path d="M374.39 2765.4V2748.8M374.39 1621.5V1638.1M537.28 2765.4V2748.8M537.28 1621.5V1638.1M700.17 2765.4V2748.8M700.17 1621.5V1638.1M863.06 2765.4V2748.8M863.06 1621.5V1638.1M1025.94 2765.4V2748.8M1025.94 1621.5V1638.1M1188.83 2765.4V2748.8M1188.83 1621.5V1638.1M1351.72 2765.4V2748.8M1351.72 1621.5V1638.1M1514.61 2765.4V2748.8M1514.61 1621.5V1638.1M211.5 2622.41H228.1M1677.5 2622.41H1660.9M211.5 2479.43H228.1M1677.5 2479.43H1660.9M211.5 2336.44H228.1M1677.5 2336.44H1660.9M211.5 2193.45H228.1M1677.5 2193.45H1660.9M211.5 2050.46H228.1M1677.5 2050.46H1660.9M211.5 1907.47H228.1M1677.5 1907.47H1660.9M211.5 1764.49H228.1M1677.5 1764.49H1660.9" stroke="#262626" stroke-width="2.8" fill="none"/>
<rect x="211.5" y="1621.5" width="1466" height="1143.9" fill="none" stroke="#262626" stroke-width="2.8" stroke-linejoin="miter"/>
<polyline points="211.5,2622.41 333.67,2598.1 455.83,2536.62 578,2477.28 700.17,2392.2 822.33,2297.83 944.5,2193.45 1066.67,2089.07 1188.83,1994.7 1311,1909.62 1433.17,1850.28 1555.33,1788.8 1677.5,1764.49" fill="none" stroke="#0000FF" stroke-width="8.0" stroke-linejoin="round" stroke-linecap="butt"/>
<polyline points="211.5,2515.17 333.67,2498.01 455.83,2453.69 578,2406.5 700.17,2342.16 822.33,2269.23 944.5,2193.45 1066.67,2117.67 1188.83,2044.74 1311,1980.4 1433.17,1933.21 1555.33,1888.89 1677.5,1871.73" fill="none" stroke="#FF0000" stroke-width="8.0" stroke-linejoin="round" stroke-linecap="butt"/>
<g font-weight="bold" font-size="54.0" fill="#262626">
<text transform="translate(210.7 2841.7) scale(1 1.03)" text-anchor="middle">0</text>
<text transform="translate(373.59 2841.7) scale(1 1.03)" text-anchor="middle">20</text>
<text transform="translate(536.48 2841.7) scale(1 1.03)" text-anchor="middle">40</text>
<text transform="translate(699.37 2841.7) scale(1 1.03)" text-anchor="middle">60</text>
<text transform="translate(862.26 2841.7) scale(1 1.03)" text-anchor="middle">80</text>
<text transform="translate(1025.14 2841.7) scale(1 1.03)" text-anchor="middle">100</text>
<text transform="translate(1188.03 2841.7) scale(1 1.03)" text-anchor="middle">120</text>
<text transform="translate(1350.92 2841.7) scale(1 1.03)" text-anchor="middle">140</text>
<text transform="translate(1513.81 2841.7) scale(1 1.03)" text-anchor="middle">160</text>
<text transform="translate(1676.7 2841.7) scale(1 1.03)" text-anchor="middle">180</text>
<text transform="translate(189.5 2786.4) scale(1 1.03)" text-anchor="end">-80</text>
<text transform="translate(189.5 2643.41) scale(1 1.03)" text-anchor="end">-60</text>
<text transform="translate(189.5 2500.43) scale(1 1.03)" text-anchor="end">-40</text>
<text transform="translate(189.5 2357.44) scale(1 1.03)" text-anchor="end">-20</text>
<text transform="translate(189.5 2214.45) scale(1 1.03)" text-anchor="end">0</text>
<text transform="translate(189.5 2071.46) scale(1 1.03)" text-anchor="end">20</text>
<text transform="translate(189.5 1928.47) scale(1 1.03)" text-anchor="end">40</text>
<text transform="translate(189.5 1785.49) scale(1 1.03)" text-anchor="end">60</text>
<text transform="translate(189.5 1642.5) scale(1 1.03)" text-anchor="end">80</text>
</g>
<text x="944.8" y="2919.7" text-anchor="middle" font-weight="bold" font-size="59.8" fill="#262626">Azimuth angle / degree</text>
<text transform="translate(74.9 2192.9) rotate(-90)" x="0" y="0" text-anchor="middle" font-weight="bold" font-size="59.8" fill="#262626">Doppler frequency / Hz</text>
<rect x="1238.5" y="1658.5" width="402" height="141.8" fill="#fff" stroke="#262626" stroke-width="2.8"/>
<path d="M1251.5 1696.8H1388" stroke="#0000FF" stroke-width="7.0"/>
<text x="1396" y="1714.3" font-weight="bold" font-size="48.9" fill="#000">measured</text>
<path d="M1251.5 1761.5H1388" stroke="#FF0000" stroke-width="7.0"/>
<text x="1396" y="1779" font-weight="bold" font-size="48.9" fill="#000">true value</text>
<text x="910.5" y="3022" text-anchor="middle" font-size="85" fill="#000" style="font-family:'Liberation Serif', serif">(<tspan font-weight="bold">b</tspan>)</text>
</svg></body></html>
